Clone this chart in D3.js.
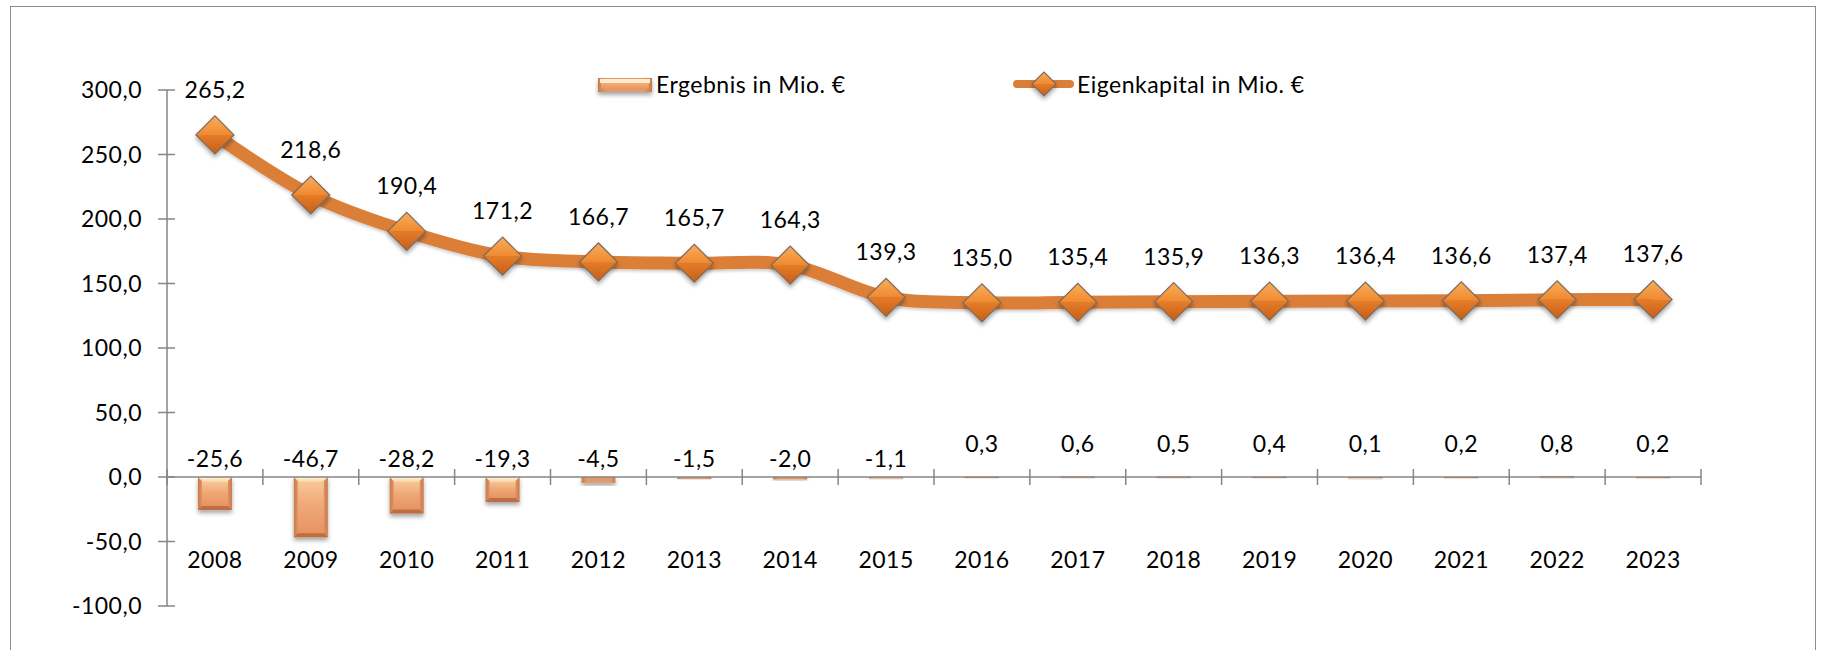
<!DOCTYPE html>
<html>
<head>
<meta charset="utf-8">
<script src="https://cdn.jsdelivr.net/npm/d3@7"></script>
<style>
  html, body { margin: 0; padding: 0; background: #fff; }
  svg text { font-family: Lato, "Open Sans", sans-serif; fill: #000; font-size: 23px; letter-spacing: 0.5px; }
</style>
</head>
<body>
<svg id="chart" width="1827" height="650"></svg>
<script>
const years = ["2008", "2009", "2010", "2011", "2012", "2013", "2014", "2015",
  "2016", "2017", "2018", "2019", "2020", "2021", "2022", "2023"];
const ergebnis = [-25.6, -46.7, -28.2, -19.3, -4.5, -1.5, -2.0, -1.1,
  0.3, 0.6, 0.5, 0.4, 0.1, 0.2, 0.8, 0.2];
const eigenkapital = [265.2, 218.6, 190.4, 171.2, 166.7, 165.7, 164.3, 139.3,
  135.0, 135.4, 135.9, 136.3, 136.4, 136.6, 137.4, 137.6];
const yTicks = [-100, -50, 0, 50, 100, 150, 200, 250, 300];
const legendLabels = ["Ergebnis in Mio. €", "Eigenkapital in Mio. €"];

var svg = d3.select("#chart");
var defs = svg.append("defs");

// german number format: 300,0 (plain hyphen as minus)
var de = d3.formatLocale({ decimal: ",", thousands: ".", grouping: [3], currency: ["", " €"], minus: "-" });
var fmt = de.format(".1f");

var plotLeft = 167, plotRight = 1701, plotTop = 90, plotBottom = 606;

var x = d3.scaleBand().domain(years).range([plotLeft, plotRight])
  .paddingInner(0.645).paddingOuter(0.3225);
var xc = d => x(d) + x.bandwidth() / 2;
var y = d3.scaleLinear().domain([-100, 300]).range([plotBottom, plotTop]);

// ---- gradients / filters ----
function linGrad(id, stops, vertical) {
  var g = defs.append("linearGradient").attr("id", id)
    .attr("x1", 0).attr("y1", 0)
    .attr("x2", vertical ? 0 : 1).attr("y2", vertical ? 1 : 0);
  stops.forEach(s => g.append("stop").attr("offset", s[0]).attr("stop-color", s[1]));
}
linGrad("barInner", [[0, "#F8C898"], [0.45, "#F0A877"], [1, "#E69462"]], true);
linGrad("barSide", [[0, "#C97A4C"], [0.15, "#E39A68"], [0.85, "#E39A68"], [1, "#C97A4C"]], false);
linGrad("barTop", [[0, "#FFF4DA"], [1, "#F9D3A3"]], true);
linGrad("diaTop", [[0, "#F8AE5C"], [1, "#F0892F"]], true);
linGrad("diaBot", [[0, "#E57C28"], [1, "#C65F18"]], true);

var shadow = defs.append("filter").attr("id", "shadow")
  .attr("x", "-30%").attr("y", "-30%").attr("width", "160%").attr("height", "180%");
shadow.append("feDropShadow").attr("dx", 0).attr("dy", 3)
  .attr("stdDeviation", 2).attr("flood-color", "#000").attr("flood-opacity", 0.35);

var lineShadow = defs.append("filter").attr("id", "lineShadow")
  .attr("x", "-5%").attr("y", "-20%").attr("width", "110%").attr("height", "140%");
lineShadow.append("feDropShadow").attr("dx", 0).attr("dy", 2)
  .attr("stdDeviation", 1.5).attr("flood-color", "#000").attr("flood-opacity", 0.2);

// ---- frame ----
svg.append("rect")
  .attr("x", 10.5).attr("y", 6.5).attr("width", 1805).attr("height", 700)
  .attr("fill", "none").attr("stroke", "#8c8c8c").attr("stroke-width", 1);

// ---- bars ----
function drawBar(g, bx, by, bw, bh) {
  g.append("rect").attr("x", bx).attr("y", by).attr("width", bw).attr("height", Math.max(bh, 1.5))
    .attr("fill", "url(#barSide)");
  if (bh > 10) {
    g.append("rect").attr("x", bx + 4).attr("y", by + 4).attr("width", bw - 8).attr("height", bh - 8)
      .attr("fill", "url(#barInner)");
    g.append("path")
      .attr("d", "M" + bx + "," + by + "h" + bw + "l-5,5h" + (10 - bw) + "Z")
      .attr("fill", "url(#barTop)");
    g.append("path")
      .attr("d", "M" + bx + "," + (by + bh) + "h" + bw + "l-4,-4h" + (8 - bw) + "Z")
      .attr("fill", "#BE6E42");
  }
}

var barG = svg.append("g").attr("class", "bars");
years.forEach((yr, i) => {
  var v = ergebnis[i];
  var g = barG.append("g").attr("filter", "url(#shadow)");
  var by = Math.min(y(v), y(0));
  var bh = Math.abs(y(v) - y(0));
  drawBar(g, x(yr), by, x.bandwidth(), bh);
});

// ---- axes ----
var axisColor = "#868686";
var axG = svg.append("g").attr("stroke", axisColor).attr("stroke-width", 1.5);
axG.append("line").attr("x1", plotLeft).attr("x2", plotLeft).attr("y1", plotTop).attr("y2", plotBottom);
yTicks.forEach(t => {
  axG.append("line").attr("x1", plotLeft - 9).attr("x2", plotLeft + 8).attr("y1", y(t)).attr("y2", y(t));
});
axG.append("line").attr("x1", plotLeft).attr("x2", plotRight).attr("y1", y(0)).attr("y2", y(0));
var step = x.step();
d3.range(years.length + 1).forEach(k => {
  var tx = plotLeft + k * step;
  axG.append("line").attr("x1", tx).attr("x2", tx).attr("y1", y(0) - 8).attr("y2", y(0) + 8);
});

svg.append("g").selectAll("text").data(yTicks).join("text")
  .attr("x", 142).attr("y", d => y(d))
  .attr("dy", "0.35em").attr("text-anchor", "end")
  .text(d => fmt(d));

svg.append("g").selectAll("text").data(years).join("text")
  .attr("x", d => xc(d)).attr("y", 568)
  .attr("text-anchor", "middle")
  .text(d => d);

// bar value labels (above the axis)
svg.append("g").selectAll("text").data(ergebnis).join("text")
  .attr("x", (d, i) => xc(years[i]))
  .attr("y", d => d < 0 ? y(0) - 10 : y(0) - 25)
  .attr("text-anchor", "middle")
  .text(d => fmt(d));

// ---- line ----
var pts = years.map((yr, i) => [xc(yr), y(eigenkapital[i])]);
svg.append("path")
  .attr("d", d3.line().curve(d3.curveCatmullRom.alpha(0.5))(pts))
  .attr("fill", "none").attr("stroke", "#DB7E37").attr("stroke-width", 13)
  .attr("stroke-linejoin", "round")
  .attr("filter", "url(#lineShadow)");

function diamond(g, cx, cy, r) {
  var d = g.append("g").attr("transform", "translate(" + cx + "," + cy + ")")
    .attr("filter", "url(#shadow)");
  d.append("path").attr("d", "M" + (-r) + ",0L0," + (-r) + "L" + r + ",0Z").attr("fill", "url(#diaTop)");
  d.append("path").attr("d", "M" + (-r) + ",0L" + r + ",0L0," + r + "Z").attr("fill", "url(#diaBot)");
  d.append("path").attr("d", "M" + (-r) + ",0L0," + (-r) + "L" + r + ",0L0," + r + "Z")
    .attr("fill", "none").attr("stroke", "#7d6a5a").attr("stroke-width", 1.2);
}

var mkG = svg.append("g").attr("class", "markers");
pts.forEach(p => diamond(mkG, p[0], p[1], 19));

svg.append("g").selectAll("text").data(eigenkapital).join("text")
  .attr("x", (d, i) => xc(years[i]))
  .attr("y", d => y(d) - 37)
  .attr("text-anchor", "middle")
  .text(d => fmt(d));

// ---- legend ----
var lg = svg.append("g").attr("class", "legend");
var lb = lg.append("g").attr("filter", "url(#shadow)");
lb.append("rect").attr("x", 598).attr("y", 78).attr("width", 54).attr("height", 14).attr("fill", "url(#barSide)");
lb.append("rect").attr("x", 601).attr("y", 80).attr("width", 48).attr("height", 9).attr("fill", "url(#barInner)");
lb.append("rect").attr("x", 600).attr("y", 79).attr("width", 50).attr("height", 4).attr("fill", "#FDEBCB");
lg.append("text").attr("x", 656).attr("y", 85).attr("dy", "0.35em")
  .text(legendLabels[0]);

lg.append("line").attr("x1", 1017).attr("x2", 1070).attr("y1", 84).attr("y2", 84)
  .attr("stroke", "#DB7E37").attr("stroke-width", 8).attr("stroke-linecap", "round");
diamond(lg, 1044, 84, 12);
lg.append("text").attr("x", 1077).attr("y", 85).attr("dy", "0.35em")
  .text(legendLabels[1]);
</script>
</body>
</html>
